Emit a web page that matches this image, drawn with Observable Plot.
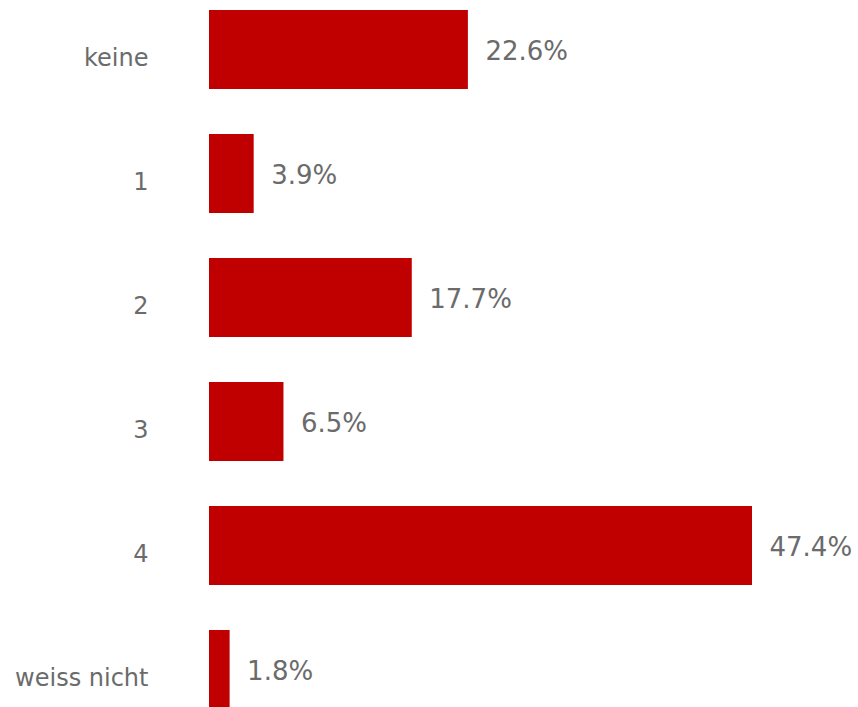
<!DOCTYPE html>
<html>
<head>
<meta charset="utf-8">
<script src="https://cdn.jsdelivr.net/npm/d3@7"></script>
<script src="https://cdn.jsdelivr.net/npm/@observablehq/plot@0.6"></script>
<style>
  html, body { margin: 0; padding: 0; background: #fff; overflow: hidden; }
</style>
</head>
<body>
<div id="chart"></div>
<script>
const categories = ["keine", "1", "2", "3", "4", "weiss nicht"];
const values = [22.6, 3.9, 17.7, 6.5, 47.4, 1.8];
const labels = ["22.6%", "3.9%", "17.7%", "6.5%", "47.4%", "1.8%"];

const data = categories.map((c, i) => ({ category: c, value: values[i], label: labels[i] }));

const chart = Plot.plot({
  width: 858,
  height: 707,
  marginLeft: 209,
  marginRight: 0,
  marginTop: 0,
  marginBottom: 0,
  style: { fontFamily: "DejaVu Sans", fontSize: "26px", color: "#6b6b6b", background: "#fff" },
  x: { domain: [0, 47.4 * 649 / 543], axis: null },
  y: { domain: categories, range: [9, 710], paddingInner: 0.365, paddingOuter: 0, label: null },
  marks: [
    Plot.barX(data, { x: "value", y: "category", fill: "#C00000" }),
    Plot.text(data, { x: "value", y: "category", text: "label", textAnchor: "start", dx: 17, dy: 2, fill: "#6b6b6b", fontSize: 26 }),
    Plot.axisY({ tickSize: 0, tickPadding: 61, dy: 8, fontSize: 24, fill: "#6b6b6b", label: null })
  ]
});
document.getElementById("chart").appendChild(chart);
</script>
</body>
</html>
